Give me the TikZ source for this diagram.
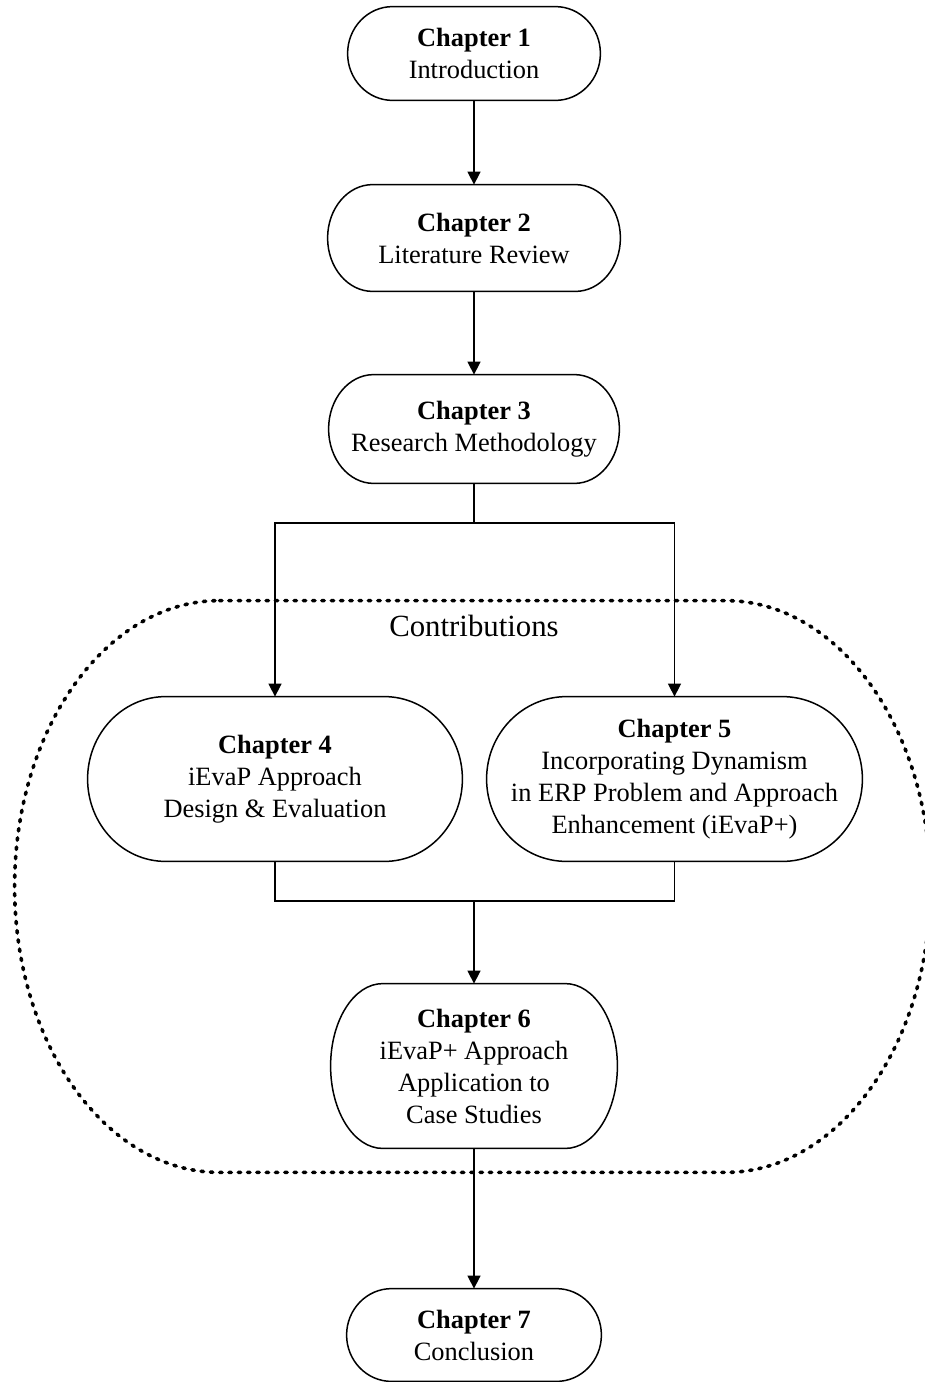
\documentclass[tikz,border=0pt]{standalone}
\usepackage{fontspec}
\setmainfont{Liberation Serif}
\usepackage{tikz}
\usetikzlibrary{positioning,arrows.meta,calc}

\newcommand{\termoutline}[3][]{%
  \draw[#1] let \p1=(#2.north east), \p2=(#2.south west), \n1={(\y1-\y2)/2} in
    (\x2+#3,\y1) -- (\x1-#3,\y1)
    arc[start angle=90, end angle=-90, x radius=#3, y radius=\n1]
    -- (\x2+#3,\y2)
    arc[start angle=270, end angle=90, x radius=#3, y radius=\n1] -- cycle;}

\begin{document}
\begin{tikzpicture}[
  x=0.5pt, y=-0.5pt,
  font=\fontsize{13.2}{16}\selectfont,
  >={Triangle[width=6.5pt,length=6.5pt]},
  chapnode/.style={draw=none, inner sep=0pt, align=center},
  chapline/.style={draw=black, line width=0.75pt},
  flowmap/.style={->, draw=black, line width=0.75pt},
  flowline/.style={draw=black, line width=0.75pt},
  contribline/.style={draw=black, line width=1.8pt, line cap=round, dash pattern=on 1.2pt off 3.45pt}
]
  \useasboundingbox (0,0) rectangle (925,1382);
  \node[chapnode, minimum width=126pt, minimum height=46.5pt] (ch1) at (474,53.5) {\textbf{Chapter 1}\\Introduction};
  \node[chapnode, minimum width=146pt, minimum height=53pt] (ch2) at (474,238) {\textbf{Chapter 2}\\Literature Review};
  \node[chapnode, minimum width=145pt, minimum height=54pt] (ch3) at (474,429) {\textbf{Chapter 3}\\Research Methodology};
  \node[chapnode, minimum width=187pt, minimum height=82pt] (ch4) at (275,779) {\textbf{Chapter 4}\\iEvaP Approach\\Design \& Evaluation};
  \node[chapnode, minimum width=187.5pt, minimum height=82pt] (ch5) at (674.5,779) {\textbf{Chapter 5}\\Incorporating Dynamism\\in ERP Problem and Approach\\Enhancement (iEvaP+)};
  \node[chapnode, minimum width=143pt, minimum height=82pt] (ch6) at (474,1066) {\textbf{Chapter 6}\\iEvaP+ Approach\\Application to\\Case Studies};
  \node[chapnode, minimum width=127pt, minimum height=46pt] (ch7) at (474,1335) {\textbf{Chapter 7}\\Conclusion};
  \node[chapnode, minimum width=457.5pt, minimum height=285.5pt] (contrib) at (472.5,886.5) {};
  \node[inner sep=0pt, font=\fontsize{15.4}{18}\selectfont] (contriblabel) at (474,626) {Contributions};

  \termoutline[chapline]{ch1}{22.5pt}
  \termoutline[chapline]{ch2}{22.5pt}
  \termoutline[chapline]{ch3}{22.5pt}
  \termoutline[chapline]{ch4}{39pt}
  \termoutline[chapline]{ch5}{40pt}
  \termoutline[chapline]{ch6}{26pt}
  \termoutline[chapline]{ch7}{22.5pt}
  \termoutline[contribline]{contrib}{102.5pt}

  \coordinate (fork) at (474,523);
  \coordinate (join) at (474,901);
  \draw[flowmap] (ch1.south) -- (ch2.north);
  \draw[flowmap] (ch2.south) -- (ch3.north);
  \draw[flowline] (ch3.south) -- (fork);
  \draw[flowmap] (fork) -| (ch4.north);
  \draw[flowmap] (fork) -| (ch5.north);
  \draw[flowline] (ch4.south) |- (join);
  \draw[flowline] (ch5.south) |- (join);
  \draw[flowmap] (join) -- (ch6.north);
  \draw[flowmap] (ch6.south) -- (ch7.north);
\end{tikzpicture}
\end{document}
